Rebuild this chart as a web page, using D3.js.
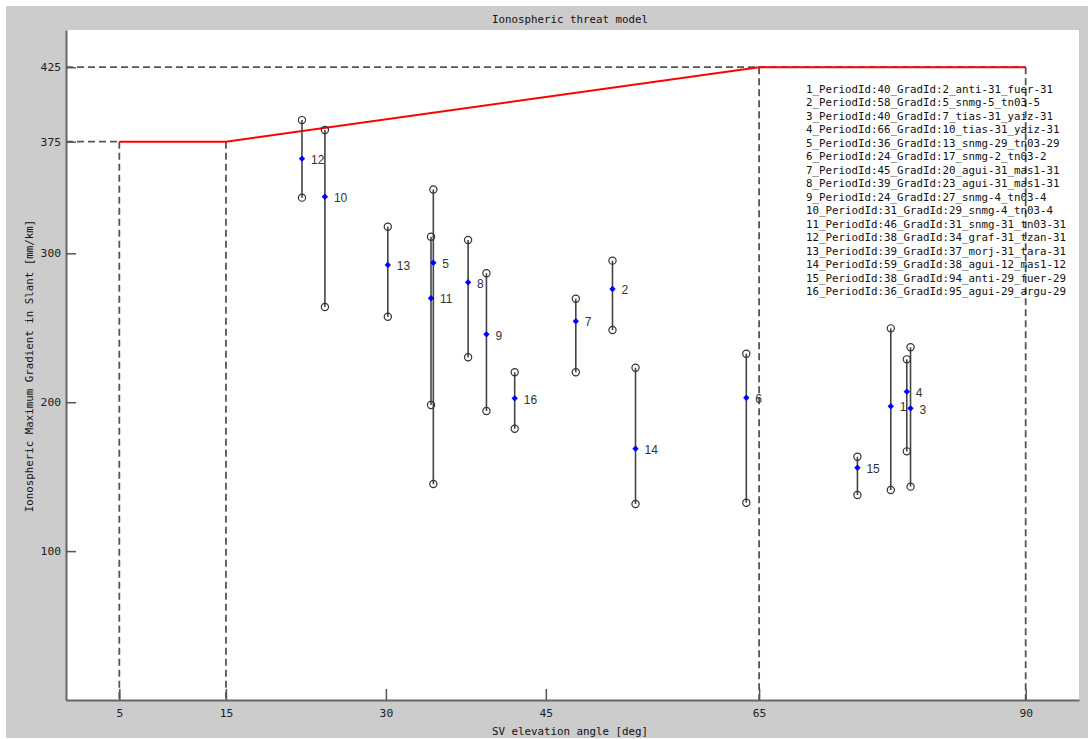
<!DOCTYPE html>
<html>
<head>
<meta charset="utf-8">
<script src="https://cdn.jsdelivr.net/npm/d3@7"></script>
<style>
  html, body { margin: 0; padding: 0; background: #ffffff; }
  svg { display: block; }
</style>
</head>
<body>
<svg id="chart" width="1088" height="739"></svg>
<script>
// ---------------- data ----------------
const ids    = [1, 2, 3, 4, 5, 6, 7, 8, 9, 10, 11, 12, 13, 14, 15, 16];
const elev   = [77.35, 51.25, 79.20, 78.85, 34.45, 63.80, 47.81, 37.71, 39.43, 24.28, 34.23, 22.13, 30.18, 53.41, 74.22, 42.08];
const center = [197.3, 276.0, 195.9, 207.1, 293.7, 203.0, 254.4, 280.5, 245.6, 338.0, 269.8, 363.6, 292.2, 168.8, 156.0, 202.6];
const upper  = [249.6, 295.1, 236.9, 228.8, 342.9, 232.6, 269.5, 309.0, 286.6, 382.8, 311.2, 389.5, 317.9, 223.2, 163.4, 220.1];
const lower  = [141.0, 248.5, 143.3, 167.0, 145.1, 132.5, 220.1, 230.2, 194.1, 264.0, 198.1, 337.4, 257.4, 131.6, 137.7, 182.2];

const legendNames = [
  "1_PeriodId:40_GradId:2_anti-31_fuer-31",
  "2_PeriodId:58_GradId:5_snmg-5_tn03-5",
  "3_PeriodId:40_GradId:7_tias-31_yaiz-31",
  "4_PeriodId:66_GradId:10_tias-31_yaiz-31",
  "5_PeriodId:36_GradId:13_snmg-29_tn03-29",
  "6_PeriodId:24_GradId:17_snmg-2_tn03-2",
  "7_PeriodId:45_GradId:20_agui-31_mas1-31",
  "8_PeriodId:39_GradId:23_agui-31_mas1-31",
  "9_PeriodId:24_GradId:27_snmg-4_tn03-4",
  "10_PeriodId:31_GradId:29_snmg-4_tn03-4",
  "11_PeriodId:46_GradId:31_snmg-31_tn03-31",
  "12_PeriodId:38_GradId:34_graf-31_tzan-31",
  "13_PeriodId:39_GradId:37_morj-31_tara-31",
  "14_PeriodId:59_GradId:38_agui-12_mas1-12",
  "15_PeriodId:38_GradId:94_anti-29_fuer-29",
  "16_PeriodId:36_GradId:95_agui-29_argu-29"
];

const thresholdX = [5, 15, 65, 90];
const thresholdY = [375, 375, 425, 425];

const xTicks = [5, 15, 30, 45, 65, 90];
const yTicks = [100, 200, 300, 375, 425];

const titleText = "Ionospheric threat model";
const xTitle = "SV elevation angle [deg]";
const yTitle = "Ionospheric Maximum Gradient in Slant [mm/km]";

// ---------------- layout ----------------
const svg = d3.select("#chart");
const L = 66, R = 1079, T = 30, B = 700;
const monoFont = "'DejaVu Sans Mono', 'Liberation Mono', monospace";

const x = d3.scaleLinear().domain([0, 95]).range([L, R]);
const y = d3.scaleLinear().domain([0, 450]).range([B, T]);

// figure background
svg.append("rect").attr("x", 6).attr("y", 6).attr("width", 1082).attr("height", 732).attr("fill", "#cccccc");
svg.append("rect").attr("x", L).attr("y", T).attr("width", R - L).attr("height", B - T).attr("fill", "#ffffff");

// dashed reference lines
const dashColor = "#555555";
const dashes = svg.append("g").attr("fill", "none").attr("stroke", dashColor)
  .attr("stroke-width", 1.8).attr("stroke-dasharray", "7,4");
dashes.append("line").attr("x1", x(0)).attr("x2", x(thresholdX[0]))
  .attr("y1", y(thresholdY[0])).attr("y2", y(thresholdY[0]));
dashes.append("line").attr("x1", x(0)).attr("x2", x(thresholdX[3]))
  .attr("y1", y(thresholdY[3])).attr("y2", y(thresholdY[3]));
thresholdX.forEach((tx, i) => {
  dashes.append("line").attr("x1", x(tx)).attr("x2", x(tx))
    .attr("y1", y(thresholdY[i])).attr("y2", y(0));
});

// axes
const yAxis = d3.axisLeft(y).tickValues(yTicks).tickSizeInner(-10).tickSizeOuter(0).tickPadding(5);
const xAxis = d3.axisBottom(x).tickValues(xTicks).tickSizeInner(-11).tickSizeOuter(0).tickPadding(9);

const gy = svg.append("g").attr("transform", `translate(${L},0)`).call(yAxis);
const gx = svg.append("g").attr("transform", `translate(0,${B})`).call(xAxis);
[gx, gy].forEach(g => {
  g.select(".domain").attr("stroke", "#666666").attr("stroke-width", 2);
  g.selectAll(".tick line").attr("stroke", "#555555").attr("stroke-width", 1.5);
  g.selectAll(".tick text").attr("fill", "#222222")
    .style("font-family", monoFont).style("font-size", "11.3px");
});

// threat model line
svg.append("path")
  .datum(thresholdX.map((tx, i) => [tx, thresholdY[i]]))
  .attr("fill", "none").attr("stroke", "#ff0000").attr("stroke-width", 2)
  .attr("d", d3.line().x(d => x(d[0])).y(d => y(d[1])));

// error bars
const pts = ids.map((id, i) => ({id, e: elev[i], c: center[i], u: upper[i], l: lower[i]}));
const gBars = svg.append("g");
gBars.selectAll("line.bar").data(pts).join("line")
  .attr("class", "bar")
  .attr("x1", d => x(d.e)).attr("x2", d => x(d.e))
  .attr("y1", d => y(d.u)).attr("y2", d => y(d.l))
  .attr("stroke", "#444444").attr("stroke-width", 1.6);

const ends = [];
pts.forEach(d => { ends.push({e: d.e, v: d.u}); ends.push({e: d.e, v: d.l}); });
gBars.selectAll("circle.end").data(ends).join("circle")
  .attr("class", "end")
  .attr("cx", d => x(d.e)).attr("cy", d => y(d.v)).attr("r", 3.6)
  .attr("fill", "none").attr("stroke", "#333333").attr("stroke-width", 1.2);

// centre diamonds
const diamond = d3.symbol().type(d3.symbolDiamond2).size(26);
gBars.selectAll("path.mid").data(pts).join("path")
  .attr("class", "mid")
  .attr("transform", d => `translate(${x(d.e)},${y(d.c)})`)
  .attr("d", diamond)
  .attr("fill", "#0000ff");

// labels
gBars.selectAll("text.lab").data(pts).join("text")
  .attr("class", "lab")
  .attr("x", d => x(d.e) + 9).attr("y", d => y(d.c) + 1)
  .attr("dy", "0.35em")
  .attr("fill", "#333333")
  .style("font-family", "'Liberation Sans', Arial, sans-serif")
  .style("font-size", "12px")
  .text(d => d.id);

// legend
const leg = svg.append("g");
leg.selectAll("text").data(legendNames).join("text")
  .attr("x", 806).attr("y", (d, i) => 89 + i * 13.5)
  .attr("dy", "0.35em")
  .attr("fill", "#111111")
  .style("font-family", monoFont).style("font-size", "10.8px")
  .text(d => d);

// title and axis titles
svg.append("text").attr("x", 570).attr("y", 19).attr("dy", "0.35em")
  .attr("text-anchor", "middle").attr("fill", "#111111")
  .style("font-family", monoFont).style("font-size", "10.8px")
  .text(titleText);

svg.append("text").attr("x", 570).attr("y", 731).attr("dy", "0.35em")
  .attr("text-anchor", "middle").attr("fill", "#111111")
  .style("font-family", monoFont).style("font-size", "10.8px")
  .text(xTitle);

svg.append("text")
  .attr("transform", `translate(29,${(T + B) / 2 + 1}) rotate(-90)`)
  .attr("dy", "0.35em")
  .attr("text-anchor", "middle").attr("fill", "#111111")
  .style("font-family", monoFont).style("font-size", "10.8px")
  .text(yTitle);
</script>
</body>
</html>
